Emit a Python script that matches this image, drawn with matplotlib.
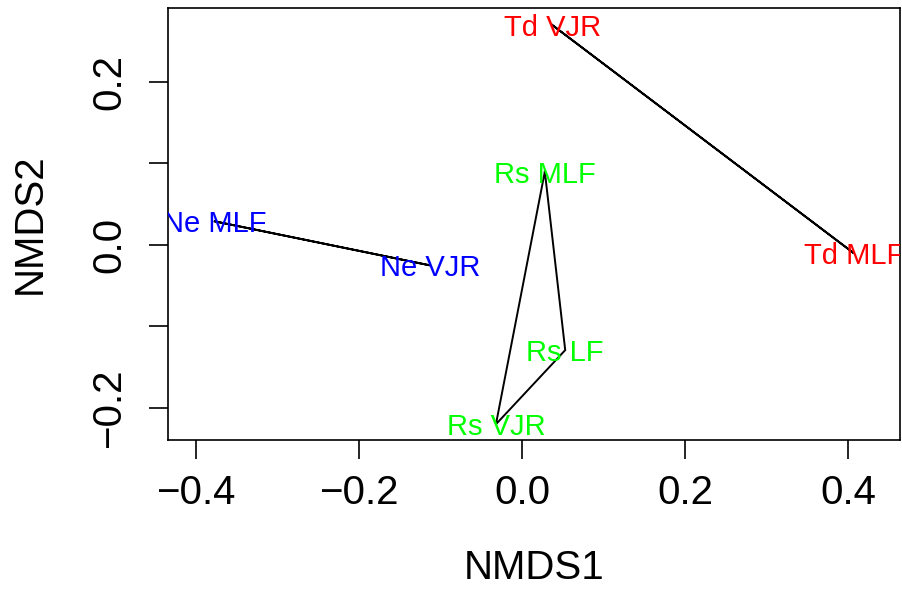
import matplotlib
matplotlib.use("Agg")
import matplotlib.pyplot as plt

plt.rcParams['font.family'] = ['Liberation Sans', 'DejaVu Sans']

# NMDS site scores
sites = ["Td VJR", "Td MLF", "Ne MLF", "Ne VJR", "Rs MLF", "Rs LF", "Rs VJR"]
groups = ["Td", "Td", "Ne", "Ne", "Rs", "Rs", "Rs"]
nmds1 = [0.037, 0.407, -0.377, -0.113, 0.028, 0.053, -0.032]
nmds2 = [0.270, -0.010, 0.029, -0.025, 0.090, -0.129, -0.220]
group_colors = {"Td": "#FF0000", "Ne": "#0000FF", "Rs": "#00FF00"}

x_ticks = [-0.4, -0.2, 0.0, 0.2, 0.4]
y_ticks = [-0.2, -0.1, 0.0, 0.1, 0.2]
y_labels = ["\u22120.2", "", "0.0", "", "0.2"]

fig = plt.figure(figsize=(9.03, 5.95), dpi=100)
ax = fig.add_axes([168 / 903, 1 - 440 / 595, 732 / 903, 432 / 595])

ax.set_xlim(-0.4344, 0.4638)
ax.set_ylim(-0.2393, 0.2908)

# hulls per group (ordihull style)
for g in ["Td", "Ne", "Rs"]:
    xs = [x for x, gg in zip(nmds1, groups) if gg == g]
    ys = [y for y, gg in zip(nmds2, groups) if gg == g]
    xs.append(xs[0])
    ys.append(ys[0])
    ax.plot(xs, ys, color="black", lw=1.4, solid_joinstyle="miter")

for name, g, x, y in zip(sites, groups, nmds1, nmds2):
    ax.text(x, y, name, color=group_colors[g], fontsize=21,
            ha="center", va="center_baseline", clip_on=True)

ax.set_xticks(x_ticks)
ax.set_xticklabels(["\u22120.4", "\u22120.2", "0.0", "0.2", "0.4"])
ax.set_yticks(y_ticks)
ax.set_yticklabels(y_labels, rotation=90, va="center")
ax.tick_params(axis="both", labelsize=29, length=13.5, width=1.2)
ax.tick_params(axis="x", pad=11)
ax.tick_params(axis="y", pad=15)
for sp in ax.spines.values():
    sp.set_linewidth(1.2)

ax.set_xlabel("NMDS1", fontsize=29)
ax.xaxis.set_label_coords(0.5, -0.296)
ax.xaxis.label.set_va("center")
ax.set_ylabel("NMDS2", fontsize=29)
ax.yaxis.set_label_coords(-0.1885, 0.5)
ax.yaxis.label.set_va("center")

fig.savefig("out.png", dpi=100)
